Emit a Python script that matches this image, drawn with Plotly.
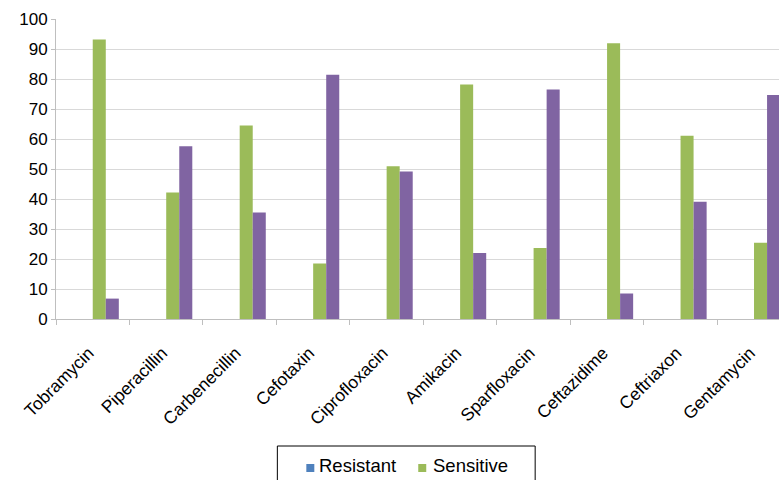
import plotly.graph_objects as go

categories = ["Tobramycin", "Piperacillin", "Carbenecillin", "Cefotaxin", "Ciprofloxacin",
              "Amikacin", "Sparfloxacin", "Ceftazidime", "Ceftriaxon", "Gentamycin"]
resistant = [0, 0, 0, 0, 0, 0, 0, 0, 0, 0]
blank_series = [0, 0, 0, 0, 0, 0, 0, 0, 0, 0]
sensitive = [93.2, 42.2, 64.5, 18.5, 50.9, 78.2, 23.7, 91.9, 61.1, 25.4]
third_series = [6.8, 57.6, 35.5, 81.4, 49.2, 22.0, 76.5, 8.5, 39.1, 74.7]
y_ticks = [0, 10, 20, 30, 40, 50, 60, 70, 80, 90, 100]
legend_names = ["Resistant", "Sensitive"]

BLUE = "#4F81BD"
GREEN = "#9BBB59"
PURPLE = "#8064A2"
FONT = "Liberation Sans, Arial, sans-serif"

W, H = 779, 480
ML, MR, MT, MB = 55.5, 0, 19, 161
PW, PH = W - ML - MR, H - MT - MB


def px(x):
    return (x - ML) / PW


def py(y):
    return (H - MB - y) / PH


fig = go.Figure()
fig.add_trace(go.Bar(x=categories, y=resistant, name="Resistant",
                     marker=dict(color=BLUE, line=dict(width=0))))
fig.add_trace(go.Bar(x=categories, y=blank_series, name="",
                     marker=dict(color="#C0504D", line=dict(width=0))))
fig.add_trace(go.Bar(x=categories, y=sensitive, name="Sensitive",
                     marker=dict(color=GREEN, line=dict(width=0))))
fig.add_trace(go.Bar(x=categories, y=third_series, name="",
                     marker=dict(color=PURPLE, line=dict(width=0))))

# legend drawn as box + swatches + text
shapes = [dict(type="rect", xref="paper", yref="paper",
               x0=px(277), x1=px(535), y0=py(446), y1=py(520),
               line=dict(color="black", width=1), fillcolor="white", layer="above")]
annotations = []
for name, color, sx, tx in [(legend_names[0], BLUE, 306, 317), (legend_names[1], GREEN, 418, 431)]:
    shapes.append(dict(type="rect", xref="paper", yref="paper",
                       x0=px(sx), x1=px(sx + 8), y0=py(464), y1=py(472),
                       line=dict(width=0), fillcolor=color, layer="above"))
    annotations.append(dict(text=name, xref="paper", yref="paper", x=px(tx), y=py(465.5),
                            xanchor="left", yanchor="middle", showarrow=False,
                            font=dict(family=FONT, size=18.5, color="black")))

fig.update_layout(
    width=W, height=H,
    margin=dict(l=ML, r=MR, t=MT, b=MB),
    paper_bgcolor="white", plot_bgcolor="white",
    barmode="group", bargap=0.29, bargroupgap=0,
    font=dict(family=FONT, size=17, color="black"),
    showlegend=False,
    shapes=shapes, annotations=annotations,
)
fig.update_xaxes(
    type="category", range=[-0.5, 9.34], automargin=False,
    tickangle=-45, showline=True, linecolor="#BFBFBF", linewidth=1,
    ticks="outside", ticklen=5, tickcolor="#BFBFBF", tickson="boundaries",
    ticklabelstandoff=16, ticklabelshift=-4,
    showgrid=False, tickfont=dict(family=FONT, size=17.5, color="black"),
)
fig.update_yaxes(
    range=[0, 100], tickvals=y_ticks, automargin=False,
    showline=True, linecolor="#BFBFBF", linewidth=1,
    ticks="outside", ticklen=4, tickcolor="#BFBFBF",
    showgrid=True, gridcolor="#D9D9D9", gridwidth=1, zeroline=False,
    tickfont=dict(family=FONT, size=17, color="black"),
)

fig.write_html("out.html", config={"displayModeBar": False},
               post_script="document.body.style.margin='0';document.body.style.overflow='hidden';")
